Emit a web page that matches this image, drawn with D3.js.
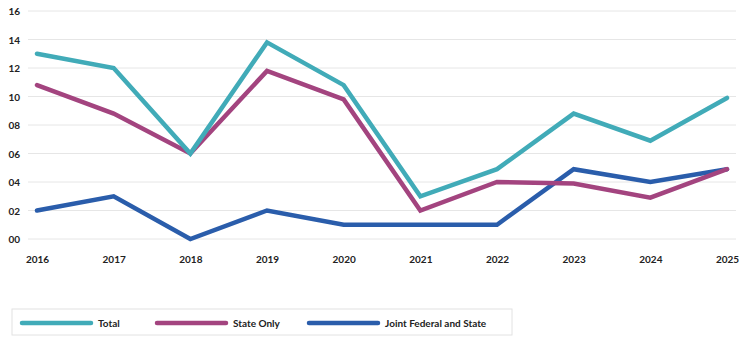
<!DOCTYPE html>
<html>
<head>
<meta charset="utf-8">
<script src="https://cdn.jsdelivr.net/npm/d3@7"></script>
<style>
  body { margin: 0; background: #fff; }
  text { font-family: 'Lato', 'Open Sans', sans-serif; font-weight: 700; fill: #222; }
</style>
</head>
<body>
<svg id="chart" width="740" height="344"></svg>
<script>
//////////////////////////////////////////////////////////////////////////////
// Data
//////////////////////////////////////////////////////////////////////////////
var years = ['2016', '2017', '2018', '2019', '2020', '2021', '2022', '2023', '2024', '2025']
var total = [13, 12, 6, 13.8, 10.8, 3, 4.9, 8.8, 6.9, 9.9]
var state_only = [10.8, 8.8, 6, 11.8, 9.8, 2, 4, 3.9, 2.9, 4.9]
var joint = [2, 3, 0, 2, 1, 1, 1, 4.9, 4, 4.9]
var y_ticks = [0, 2, 4, 6, 8, 10, 12, 14, 16]

var series = [
  { name: 'Total', values: total, color: '#41abb8' },
  { name: 'State Only', values: state_only, color: '#a3447f' },
  { name: 'Joint Federal and State', values: joint, color: '#2a5dab' }
]

//////////////////////////////////////////////////////////////////////////////
// Scales
//////////////////////////////////////////////////////////////////////////////
var svg = d3.select('#chart')

var x = d3.scalePoint().domain(years).range([37, 727])
var y = d3.scaleLinear().domain([0, 16]).range([239, 11])

//////////////////////////////////////////////////////////////////////////////
// Grid and axes
//////////////////////////////////////////////////////////////////////////////
svg.append('g')
  .selectAll('line')
  .data(y_ticks)
  .enter()
  .append('line')
  .attr('x1', 28)
  .attr('x2', 736)
  .attr('y1', function(d) { return y(d) })
  .attr('y2', function(d) { return y(d) })
  .attr('stroke', '#e6e6e6')
  .attr('stroke-width', 1)

var y_axis = svg.append('g')
  .attr('transform', 'translate(20,0)')
  .call(d3.axisLeft(y).tickValues(y_ticks).tickSize(0).tickPadding(0)
    .tickFormat(function(d) { return d3.format('02d')(d) }))
y_axis.select('.domain').remove()
y_axis.selectAll('text')
  .attr('font-size', 10)
  .attr('text-anchor', 'end')
  .attr('dy', '0.35em')

var x_axis = svg.append('g')
  .attr('transform', 'translate(0,259)')
  .call(d3.axisBottom(x).tickSize(0).tickPadding(0))
x_axis.select('.domain').remove()
x_axis.selectAll('text')
  .attr('font-size', 10)
  .attr('dy', '0.35em')

//////////////////////////////////////////////////////////////////////////////
// Lines
//////////////////////////////////////////////////////////////////////////////
var line = d3.line()
  .x(function(d, i) { return x(years[i]) })
  .y(function(d) { return y(d) })

svg.append('g')
  .selectAll('path')
  .data(series.slice().reverse())
  .enter()
  .append('path')
  .attr('d', function(s) { return line(s.values) })
  .attr('fill', 'none')
  .attr('stroke', function(s) { return s.color })
  .attr('stroke-width', 4.5)
  .attr('stroke-linejoin', 'miter')
  .attr('stroke-linecap', 'round')

//////////////////////////////////////////////////////////////////////////////
// Legend
//////////////////////////////////////////////////////////////////////////////
var legend = svg.append('g').attr('transform', 'translate(12,309)')

legend.append('rect')
  .attr('width', 500)
  .attr('height', 26)
  .attr('fill', '#fff')
  .attr('stroke', '#e2e2e2')

var legend_x = [8, 143, 295]

var item = legend.selectAll('.legend-item')
  .data(series)
  .enter()
  .append('g')
  .attr('class', 'legend-item')
  .attr('transform', function(d, i) { return 'translate(' + legend_x[i] + ',14)' })

item.append('line')
  .attr('x1', 2)
  .attr('x2', 71)
  .attr('stroke', function(d) { return d.color })
  .attr('stroke-width', 4.5)
  .attr('stroke-linecap', 'round')

item.append('text')
  .attr('x', 78)
  .attr('dy', '0.35em')
  .attr('font-size', 10)
  .text(function(d) { return d.name })
</script>
</body>
</html>
